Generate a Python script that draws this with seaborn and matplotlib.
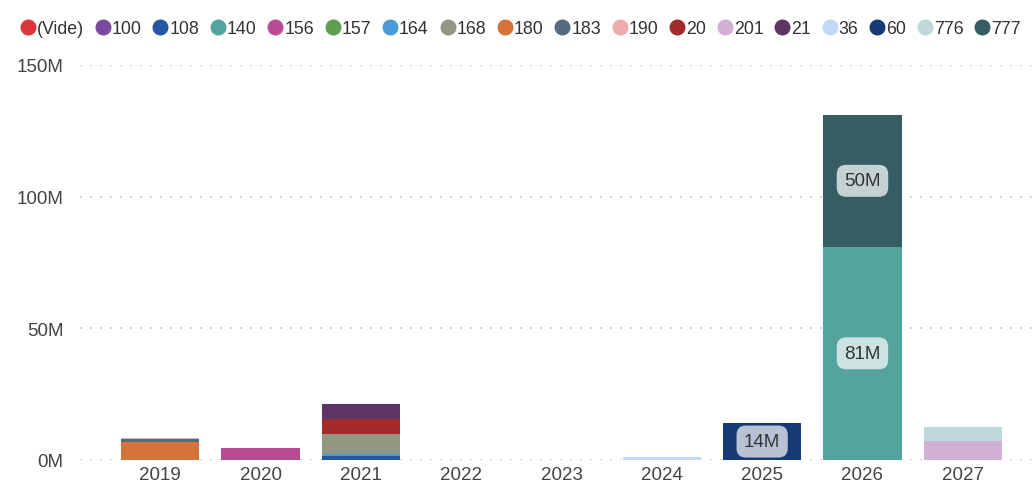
import pandas as pd
import matplotlib.pyplot as plt
import seaborn as sns
from matplotlib.lines import Line2D

# Categories (legend order) and their colours
categories = ['(Vide)', '100', '108', '140', '156', '157', '164', '168', '180',
              '183', '190', '20', '201', '21', '36', '60', '776', '777']
colors = ['#d9373a', '#7b4a9c', '#2356a6', '#55a39d', '#b94b93', '#5f9e4e',
          '#4a9bd6', '#929783', '#d6733a', '#566a80', '#eeabac', '#a42a2a',
          '#d2afd5', '#5e3566', '#c1d9f7', '#163a75', '#bed8dc', '#365d62']

years = [2019, 2020, 2021, 2022, 2023, 2024, 2025, 2026, 2027]

# values per (year, category), in millions
year_col = [2019, 2019, 2019, 2020, 2021, 2021, 2021, 2021, 2021, 2024, 2025, 2026, 2026, 2027, 2027]
cat_col = ['180', '183', '190', '156', '108', '164', '168', '20', '21', '36', '60', '140', '777', '201', '776']
val_col = [7.0, 1.0, 0.5, 4.5, 1.7, 0.6, 7.6, 5.7, 5.7, 1.2, 14.0, 81.0, 50.0, 7.1, 5.3]

df = pd.DataFrame({'year': year_col, 'cat': cat_col, 'value': [v * 1e6 for v in val_col]})

sns.set_theme(style='white')
plt.rcParams['font.family'] = ['Liberation Sans', 'DejaVu Sans']

fig = plt.figure(figsize=(10.35, 4.85), dpi=100)
ax = fig.add_axes([0.0773, 0.0495, 0.9227, 0.8145])

palette = dict(zip(categories, colors))
# seaborn stacks the last hue level at the bottom, so reverse the order
sns.histplot(data=df, x='year', weights='value', hue='cat',
             hue_order=categories[::-1], palette=palette, multiple='stack',
             discrete=True, shrink=0.78, alpha=1, linewidth=0,
             legend=False, ax=ax)

# data labels
labels = [(2025, 7e6, '14M', '#b9c1d5'), (2026, 40.5e6, '81M', '#cde3e1'),
          (2026, 106e6, '50M', '#c6d1d3')]
for x, y, t, fc in labels:
    ax.text(x, y, t, ha='center', va='center', fontsize=13.5, color='#333333',
            bbox=dict(boxstyle='round,pad=0.4,rounding_size=0.5', fc=fc, ec='none'))

ax.set_xlim(2018.2, 2027.72)
ax.set_ylim(0, 150e6)
ax.set_xticks(years)
ax.set_xticklabels([str(y) for y in years])
ax.set_yticks([0, 50e6, 100e6, 150e6])
ax.set_yticklabels(['0M', '50M', '100M', '150M'])
ax.set_xlabel('')
ax.set_ylabel('')
ax.tick_params(axis='both', length=0, labelsize=13.5, colors='#444444')
ax.tick_params(axis='y', pad=12)
ax.tick_params(axis='x', pad=4)
for s in ax.spines.values():
    s.set_visible(False)
ax.yaxis.grid(True, color='#c4c4c4', linestyle=(0, (1, 5)), linewidth=1.2)
ax.set_axisbelow(True)

handles = [Line2D([], [], marker='o', linestyle='', markersize=10.5,
                  markerfacecolor=c, markeredgecolor=c) for c in colors]
fig.legend(handles, categories, loc='upper left', bbox_to_anchor=(0.003, 0.99),
           ncol=len(categories), frameon=False, fontsize=12.8,
           handletextpad=0.0, columnspacing=0.56, handlelength=1.0,
           labelcolor='#333333', borderaxespad=0.5)

plt.savefig('out.png', dpi=100)
